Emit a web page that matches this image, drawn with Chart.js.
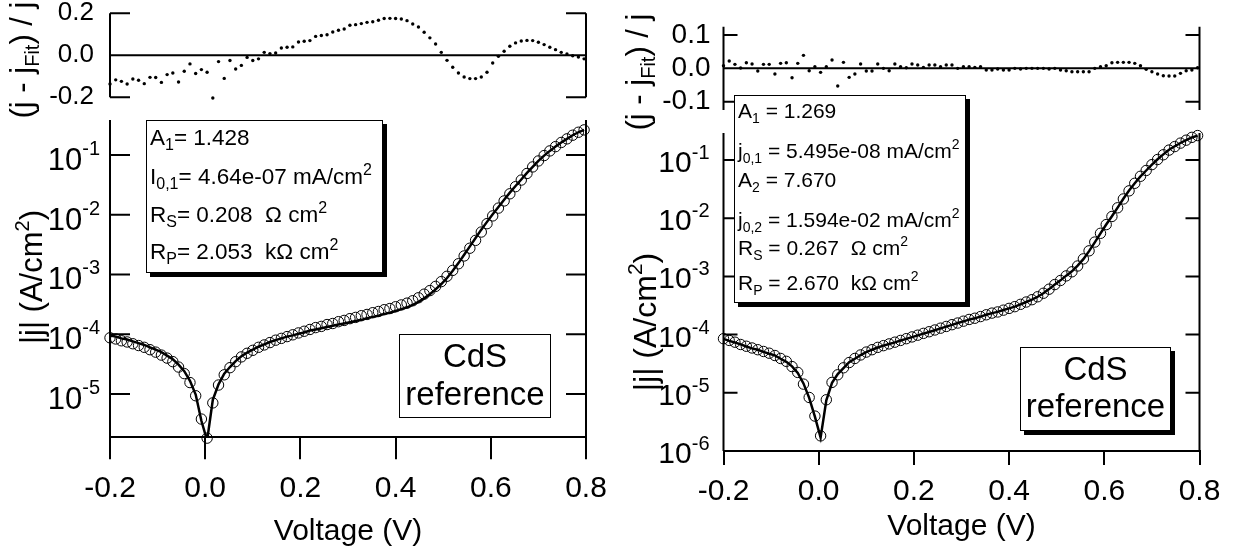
<!DOCTYPE html>
<html>
<head>
<meta charset="utf-8">
<script src="https://cdn.jsdelivr.net/npm/chart.js@4.4.1/dist/chart.umd.min.js"></script>
<style>
html, body { margin: 0; padding: 0; background: #fff; }
#wrap { position: relative; width: 1245px; height: 556px; overflow: hidden; background: #fff; }
canvas { position: absolute; }
</style>
</head>
<body>
<div id="wrap">
  <canvas id="resLeft" width="622" height="120" style="left:0px;top:0px"></canvas>
  <canvas id="mainLeft" width="622" height="446" style="left:0px;top:110px"></canvas>
  <canvas id="resRight" width="623" height="135" style="left:622px;top:0px"></canvas>
  <canvas id="mainRight" width="623" height="466" style="left:622px;top:90px"></canvas>
</div>
<script>
// measured voltage points (V), same sweep for both samples
var voltage = [
  -0.200, -0.188, -0.176, -0.164, -0.152, -0.140, -0.128, -0.116, -0.104, -0.092,
  -0.080, -0.068, -0.056, -0.044, -0.032, -0.020, -0.008, 0.004, 0.016, 0.028,
  0.040, 0.052, 0.064, 0.076, 0.088, 0.100, 0.112, 0.124, 0.136, 0.148,
  0.160, 0.172, 0.184, 0.196, 0.208, 0.220, 0.232, 0.244, 0.256, 0.268,
  0.280, 0.292, 0.304, 0.316, 0.328, 0.340, 0.352, 0.364, 0.376, 0.388,
  0.400, 0.412, 0.424, 0.436, 0.448, 0.460, 0.472, 0.484, 0.496, 0.508,
  0.520, 0.532, 0.544, 0.556, 0.568, 0.580, 0.592, 0.604, 0.616, 0.628,
  0.640, 0.652, 0.664, 0.676, 0.688, 0.700, 0.712, 0.724, 0.736, 0.748,
  0.760, 0.772, 0.784, 0.796
];

// left: one-diode fit
var jLeft = [
  8.71e-5, 8.32e-5, 7.76e-5, 7.41e-5, 6.92e-5, 6.46e-5, 6.03e-5, 5.50e-5, 5.01e-5, 4.47e-5,
  3.98e-5, 3.47e-5, 2.82e-5, 2.19e-5, 1.55e-5, 9.33e-6, 3.80e-6, 1.82e-6, 7.08e-6, 1.41e-5,
  2.09e-5, 2.75e-5, 3.47e-5, 4.17e-5, 4.79e-5, 5.37e-5, 6.03e-5, 6.61e-5, 7.24e-5, 7.94e-5,
  8.51e-5, 9.12e-5, 9.77e-5, 1.05e-4, 1.12e-4, 1.20e-4, 1.29e-4, 1.35e-4, 1.45e-4, 1.51e-4,
  1.62e-4, 1.70e-4, 1.82e-4, 1.91e-4, 2.04e-4, 2.14e-4, 2.29e-4, 2.40e-4, 2.57e-4, 2.69e-4,
  2.88e-4, 3.09e-4, 3.31e-4, 3.63e-4, 4.07e-4, 4.68e-4, 5.37e-4, 6.31e-4, 7.59e-4, 9.33e-4,
  1.17e-3, 1.51e-3, 2.04e-3, 2.75e-3, 3.72e-3, 5.13e-3, 7.08e-3, 9.55e-3, 1.29e-2, 1.70e-2,
  2.24e-2, 2.95e-2, 3.80e-2, 4.90e-2, 6.31e-2, 7.94e-2, 9.77e-2, 0.117, 0.138, 0.162,
  0.186, 0.214, 0.240, 0.263
];
var fitLeft = [
  9.55e-5, 9.12e-5, 8.51e-5, 8.13e-5, 7.59e-5, 7.08e-5, 6.61e-5, 6.03e-5, 5.50e-5, 5.01e-5,
  4.37e-5, 3.80e-5, 3.09e-5, 2.40e-5, 1.66e-5, 9.77e-6, 3.55e-6, 1.66e-6, 7.94e-6, 1.45e-5,
  2.19e-5, 2.82e-5, 3.55e-5, 4.27e-5, 4.90e-5, 5.50e-5, 6.17e-5, 6.76e-5, 7.41e-5, 7.94e-5,
  8.51e-5, 9.12e-5, 9.55e-5, 1.02e-4, 1.07e-4, 1.15e-4, 1.20e-4, 1.26e-4, 1.32e-4, 1.38e-4,
  1.45e-4, 1.51e-4, 1.58e-4, 1.66e-4, 1.74e-4, 1.86e-4, 1.95e-4, 2.04e-4, 2.19e-4, 2.29e-4,
  2.45e-4, 2.63e-4, 2.82e-4, 3.09e-4, 3.47e-4, 3.98e-4, 4.68e-4, 5.62e-4, 6.92e-4, 8.71e-4,
  1.15e-3, 1.55e-3, 2.14e-3, 2.95e-3, 4.07e-3, 5.62e-3, 7.59e-3, 1.02e-2, 1.35e-2, 1.78e-2,
  2.34e-2, 3.02e-2, 3.89e-2, 5.01e-2, 6.31e-2, 7.94e-2, 9.77e-2, 0.117, 0.138, 0.162,
  0.186, 0.214, 0.240, 0.263
];
var residLeft = [
  -0.137, -0.117, -0.124, -0.137, -0.113, -0.119, -0.135, -0.105, -0.106, -0.129,
  -0.092, -0.084, -0.127, -0.076, -0.041, -0.087, -0.068, -0.081, -0.203, -0.030,
  -0.110, -0.025, -0.065, -0.048, -0.010, -0.025, -0.017, 0.014, 0.008, 0.011,
  0.035, 0.038, 0.040, 0.063, 0.067, 0.070, 0.090, 0.094, 0.098, 0.111,
  0.119, 0.125, 0.143, 0.146, 0.151, 0.157, 0.160, 0.167, 0.175, 0.176,
  0.175, 0.173, 0.165, 0.149, 0.135, 0.110, 0.083, 0.054, 0.014, -0.024,
  -0.057, -0.084, -0.103, -0.111, -0.111, -0.103, -0.081, -0.037, -0.005, 0.019,
  0.043, 0.059, 0.068, 0.071, 0.070, 0.062, 0.051, 0.038, 0.027, 0.014,
  0.006, -0.002, -0.008, -0.017
];

// right: two-diode fit
var jRight = [
  8.51e-5, 7.94e-5, 7.41e-5, 6.76e-5, 6.31e-5, 5.89e-5, 5.50e-5, 5.13e-5, 4.79e-5, 4.37e-5,
  3.89e-5, 3.47e-5, 2.82e-5, 2.24e-5, 1.41e-5, 8.32e-6, 3.98e-6, 1.82e-6, 7.59e-6, 1.51e-5,
  2.04e-5, 2.69e-5, 3.31e-5, 3.89e-5, 4.47e-5, 5.01e-5, 5.50e-5, 6.03e-5, 6.46e-5, 6.92e-5,
  7.41e-5, 7.94e-5, 8.51e-5, 9.12e-5, 9.77e-5, 1.05e-4, 1.12e-4, 1.20e-4, 1.29e-4, 1.38e-4,
  1.48e-4, 1.58e-4, 1.70e-4, 1.82e-4, 1.91e-4, 2.04e-4, 2.19e-4, 2.34e-4, 2.45e-4, 2.63e-4,
  2.82e-4, 3.02e-4, 3.31e-4, 3.63e-4, 3.98e-4, 4.47e-4, 5.13e-4, 6.03e-4, 7.24e-4, 8.51e-4,
  1.02e-3, 1.20e-3, 1.51e-3, 2.00e-3, 2.75e-3, 3.89e-3, 5.50e-3, 7.76e-3, 1.07e-2, 1.51e-2,
  2.14e-2, 2.95e-2, 3.98e-2, 5.25e-2, 6.61e-2, 8.32e-2, 0.102, 0.123, 0.148, 0.170,
  0.195, 0.219, 0.245, 0.263
];
var fitRight = [
  8.45e-5, 7.80e-5, 7.30e-5, 6.80e-5, 6.25e-5, 5.80e-5, 5.50e-5, 5.05e-5, 4.70e-5, 4.40e-5,
  3.85e-5, 3.40e-5, 2.85e-5, 2.20e-5, 1.45e-5, 8.20e-6, 3.90e-6, 1.70e-6, 7.40e-6, 1.48e-5,
  2.10e-5, 2.65e-5, 3.35e-5, 3.85e-5, 4.45e-5, 5.00e-5, 5.50e-5, 6.00e-5, 6.45e-5, 6.90e-5,
  7.35e-5, 7.90e-5, 8.45e-5, 9.05e-5, 9.70e-5, 1.04e-4, 1.11e-4, 1.19e-4, 1.28e-4, 1.37e-4,
  1.47e-4, 1.58e-4, 1.69e-4, 1.81e-4, 1.91e-4, 2.04e-4, 2.19e-4, 2.34e-4, 2.46e-4, 2.64e-4,
  2.82e-4, 3.02e-4, 3.31e-4, 3.63e-4, 3.98e-4, 4.47e-4, 5.13e-4, 6.05e-4, 7.25e-4, 8.55e-4,
  1.03e-3, 1.22e-3, 1.53e-3, 1.98e-3, 2.72e-3, 3.85e-3, 5.50e-3, 7.80e-3, 1.08e-2, 1.52e-2,
  2.16e-2, 2.98e-2, 3.98e-2, 5.22e-2, 6.60e-2, 8.35e-2, 0.103, 0.125, 0.150, 0.172,
  0.196, 0.220, 0.244, 0.262
];
var residRight = [
  0.008, 0.022, 0.012, 0.001, 0.017, 0.013, -0.008, 0.012, 0.012, -0.017,
  0.015, 0.017, -0.028, 0.015, 0.039, -0.007, 0.005, -0.012, 0.005, 0.025,
  -0.053, 0.018, -0.027, -0.017, 0.013, -0.008, -0.008, 0.013, 0.000, -0.007,
  0.013, 0.005, 0.002, 0.013, 0.010, 0.003, 0.010, 0.010, 0.005, 0.010,
  0.010, 0.000, 0.005, 0.005, 0.003, 0.005, -0.005, -0.005, -0.002, -0.005,
  -0.005, 0.000, -0.002, 0.000, 0.000, 0.000, 0.000, -0.002, 0.000, -0.005,
  -0.007, -0.010, -0.010, -0.010, -0.010, 0.000, 0.005, 0.008, 0.017, 0.018,
  0.018, 0.018, 0.015, 0.008, -0.003, -0.010, -0.017, -0.022, -0.023, -0.023,
  -0.015, -0.007, -0.005, 0.002
];

// ticks and labels
var xTicks = [-0.2, 0.0, 0.2, 0.4, 0.6, 0.8];
var residTicksLeft = [-0.2, 0.0, 0.2];
var residLabelsLeft = ['-0.2', '0.0', '0.2'];
var residTicksRight = [-0.1, 0.0, 0.1];
var residLabelsRight = ['-0.1', '0.0', '0.1'];
var logTicksLeft = [1e-1, 1e-2, 1e-3, 1e-4, 1e-5];
var logTicksRight = [1e-1, 1e-2, 1e-3, 1e-4, 1e-5, 1e-6];

// texts (_{..} subscript, ^{..} superscript)
var residTitle = '(j - j_{Fit}) / j';
var mainTitle = '|j| (A/cm^{2})';
var paramsLeft = ['A_{1}= 1.428', 'I_{0,1}= 4.64e-07 mA/cm^{2}', 'R_{S}= 0.208  \u03A9 cm^{2}', 'R_{P}= 2.053  k\u03A9 cm^{2}'];
var paramsRight = ['A_{1} = 1.269', 'j_{0,1} = 5.495e-08 mA/cm^{2}', 'A_{2} = 7.670', 'j_{0,2} = 1.594e-02 mA/cm^{2}', 'R_{S} = 0.267  \u03A9 cm^{2}', 'R_{P} = 2.670  k\u03A9 cm^{2}'];
var sampleLabel = ['CdS', 'reference'];

var FONT = '"Liberation Sans", Arial, sans-serif';

function pairs(xs, ys) {
    return xs.map(function (x, i) { return {x: x, y: ys[i]}; });
}

function rich_parts(str) {
    var out = [], re = /([_^])\{([^}]*)\}/g, last = 0, m;
    while ((m = re.exec(str))) {
        if (m.index > last) out.push({t: str.slice(last, m.index), k: ''});
        out.push({t: m[2], k: m[1]});
        last = re.lastIndex;
    }
    if (last < str.length) out.push({t: str.slice(last), k: ''});
    return out;
}

function draw_rich(ctx, str, x, y, size, align, small) {
    var parts = rich_parts(str);
    var scale = small || 0.65;
    var font_for = function (k) { return (k ? Math.round(size * scale) : size) + 'px ' + FONT; };
    var w = 0;
    parts.forEach(function (p) { ctx.font = font_for(p.k); p.w = ctx.measureText(p.t).width; w += p.w; });
    var cx = align === 'center' ? x - w / 2 : (align === 'right' ? x - w : x);
    ctx.textAlign = 'left';
    ctx.textBaseline = 'alphabetic';
    parts.forEach(function (p) {
        ctx.font = font_for(p.k);
        var dy = p.k === '_' ? size * 0.22 : (p.k === '^' ? -size * 0.42 : 0);
        ctx.fillText(p.t, cx, y + dy);
        cx += p.w;
    });
}

function draw_power(ctx, exp, xRight, ty, f) {
    ctx.textAlign = 'left';
    ctx.textBaseline = 'alphabetic';
    ctx.font = f.size + 'px ' + FONT;
    var wb = ctx.measureText('10').width;
    ctx.font = f.supSize + 'px ' + FONT;
    var ws = ctx.measureText(String(exp)).width;
    var x0 = xRight - wb - ws;
    ctx.font = f.size + 'px ' + FONT;
    ctx.fillText('10', x0, ty + f.baseDy);
    ctx.font = f.supSize + 'px ' + FONT;
    ctx.fillText(String(exp), x0 + wb, ty + f.supDy);
}

function draw_box(ctx, b) {
    if (b.shadow) {
        ctx.fillStyle = '#000';
        ctx.fillRect(b.x + b.shadow, b.y + b.shadow, b.w, b.h);
    }
    ctx.fillStyle = '#fff';
    ctx.fillRect(b.x, b.y, b.w, b.h);
    ctx.strokeStyle = '#000';
    ctx.lineWidth = 1;
    ctx.strokeRect(b.x + 0.5, b.y + 0.5, b.w - 1, b.h - 1);
    ctx.fillStyle = '#000';
    b.lines.forEach(function (s, i) {
        var x = b.align === 'center' ? b.x + b.w / 2 : b.x + b.pad;
        draw_rich(ctx, s, x, b.y + b.baselines[i], b.size, b.align || 'left', b.small);
    });
}

// side axes with inward ticks, labels, rotated title and text boxes
var framePlugin = {
    id: 'frame',
    afterDraw: function (chart, args, o) {
        var ctx = chart.ctx, a = chart.chartArea, y = chart.scales.y;
        ctx.save();
        ctx.strokeStyle = '#000';
        ctx.lineWidth = 2;
        ctx.beginPath();
        ctx.moveTo(a.left, a.top); ctx.lineTo(a.left, a.bottom);
        ctx.moveTo(a.right, a.top); ctx.lineTo(a.right, a.bottom);
        o.ticks.forEach(function (v) {
            var p = y.getPixelForValue(v);
            ctx.moveTo(a.left, p); ctx.lineTo(a.left + o.tickLen, p);
            ctx.moveTo(a.right, p); ctx.lineTo(a.right - o.tickLen, p);
        });
        if (o.zeroLine) {
            var z = y.getPixelForValue(0);
            ctx.moveTo(a.left, z); ctx.lineTo(a.right, z);
        }
        ctx.stroke();

        ctx.fillStyle = '#000';
        o.ticks.forEach(function (v, i) {
            var p = y.getPixelForValue(v);
            if (o.power) {
                draw_power(ctx, Math.round(Math.log10(v)), a.left - o.labelGap, p, o.power);
            } else {
                ctx.font = o.labelSize + 'px ' + FONT;
                ctx.textAlign = 'right';
                ctx.textBaseline = 'middle';
                ctx.fillText(o.labels[i], a.left - o.labelGap, p);
            }
        });

        var t = o.title;
        ctx.save();
        ctx.translate(t.x, t.y);
        ctx.rotate(-Math.PI / 2);
        draw_rich(ctx, t.text, 0, t.size * 0.36, t.size, 'center');
        ctx.restore();

        (o.boxes || []).forEach(function (b) { draw_box(ctx, b); });
        ctx.restore();
    }
};

function resid_chart(id, resid, opt) {
    return new Chart(document.getElementById(id), {
        type: 'scatter',
        data: {
            datasets: [{
                data: pairs(voltage, resid),
                pointRadius: 1.7,
                pointBackgroundColor: '#000',
                pointBorderWidth: 0,
                clip: false
            }]
        },
        options: {
            responsive: false,
            animation: false,
            events: [],
            layout: {padding: opt.padding},
            plugins: {legend: {display: false}, tooltip: {enabled: false}, frame: opt.frame},
            scales: {
                x: {type: 'linear', display: false, min: -0.2, max: 0.8},
                y: {type: 'linear', display: false, min: opt.yMin, max: opt.yMax}
            }
        },
        plugins: [framePlugin]
    });
}

function main_chart(id, j, fit, opt) {
    return new Chart(document.getElementById(id), {
        type: 'scatter',
        data: {
            datasets: [{
                data: pairs(voltage, fit),
                showLine: true,
                borderColor: '#000',
                borderWidth: 2.5,
                pointRadius: 0,
                tension: 0
            }, {
                data: pairs(voltage, j),
                pointRadius: 5.2,
                pointBorderWidth: 1,
                pointBorderColor: '#000',
                pointBackgroundColor: 'rgba(0,0,0,0)',
                clip: false
            }]
        },
        options: {
            responsive: false,
            animation: false,
            events: [],
            layout: {padding: opt.padding},
            plugins: {legend: {display: false}, tooltip: {enabled: false}, frame: opt.frame},
            scales: {
                x: {
                    type: 'linear',
                    position: 'bottom',
                    min: -0.2,
                    max: 0.8,
                    afterBuildTicks: function (s) { s.ticks = xTicks.map(function (v) { return {value: v}; }); },
                    afterFit: function (s) { s.height = opt.axisHeight; },
                    border: {display: true, color: '#000', width: 2},
                    grid: {drawOnChartArea: false, drawTicks: true, tickLength: opt.tickLen, color: '#000', lineWidth: 2},
                    ticks: {
                        color: '#000',
                        font: {family: FONT, size: 30},
                        padding: opt.labelPad,
                        maxRotation: 0,
                        autoSkip: false,
                        callback: function (v) { return v.toFixed(1); }
                    },
                    title: {
                        display: true,
                        text: 'Voltage (V)',
                        color: '#000',
                        font: {family: FONT, size: 30},
                        padding: {top: 0, bottom: opt.titlePad}
                    }
                },
                y: {type: 'logarithmic', display: false, min: opt.yMin, max: opt.yMax}
            }
        },
        plugins: [framePlugin]
    });
}

resid_chart('resLeft', residLeft, {
    padding: {left: 110, right: 36, top: 13.3, bottom: 22.7},
    yMin: -0.2, yMax: 0.2,
    frame: {
        ticks: residTicksLeft, labels: residLabelsLeft, tickLen: 20, labelGap: 16, labelSize: 26, zeroLine: true,
        title: {text: residTitle, x: 21, y: 60, size: 31}
    }
});

main_chart('mainLeft', jLeft, fitLeft, {
    padding: {left: 110, right: 36, top: 10, bottom: 0},
    axisHeight: 118.7, tickLen: 22, labelPad: 11, titlePad: 6,
    yMin: 1.88e-6, yMax: 0.385,
    frame: {
        ticks: logTicksLeft, tickLen: 20, labelGap: 10,
        power: {size: 31, supSize: 20, baseDy: 15, supDy: 0},
        title: {text: mainTitle, x: 31, y: 167, size: 31},
        boxes: [
            {x: 146, y: 10, w: 237, h: 153, shadow: 4, pad: 4, size: 22.5, small: 0.72, lines: paramsLeft, baselines: [25, 64, 102, 139]},
            {x: 399, y: 224, w: 152, h: 84, shadow: 0, size: 33, align: 'center', lines: sampleLabel, baselines: [33, 71]}
        ]
    }
});

resid_chart('resRight', residRight, {
    padding: {left: 101.5, right: 45.5, top: 26.7, bottom: 25},
    yMin: -0.125, yMax: 0.125,
    frame: {
        ticks: residTicksRight, labels: residLabelsRight, tickLen: 14, labelGap: 13, labelSize: 28, zeroLine: true,
        title: {text: residTitle, x: 15, y: 72, size: 31}
    }
});

main_chart('mainRight', jRight, fitRight, {
    padding: {left: 101.5, right: 45.5, top: 43, bottom: 0},
    axisHeight: 105, tickLen: 14, labelPad: 9, titlePad: 11,
    yMin: 1e-6, yMax: 0.291,
    frame: {
        ticks: logTicksRight, tickLen: 14, labelGap: 14,
        power: {size: 30, supSize: 20, baseDy: 12, supDy: -1},
        title: {text: mainTitle, x: 22, y: 232, size: 32},
        boxes: [
            {x: 112, y: 5, w: 232, h: 208, shadow: 4, pad: 4, size: 21, lines: paramsRight, baselines: [23, 63, 92, 132, 160, 195]},
            {x: 398, y: 257, w: 151, h: 84, shadow: 4, size: 33, align: 'center', lines: sampleLabel, baselines: [33, 70]}
        ]
    }
});
</script>
</body>
</html>
